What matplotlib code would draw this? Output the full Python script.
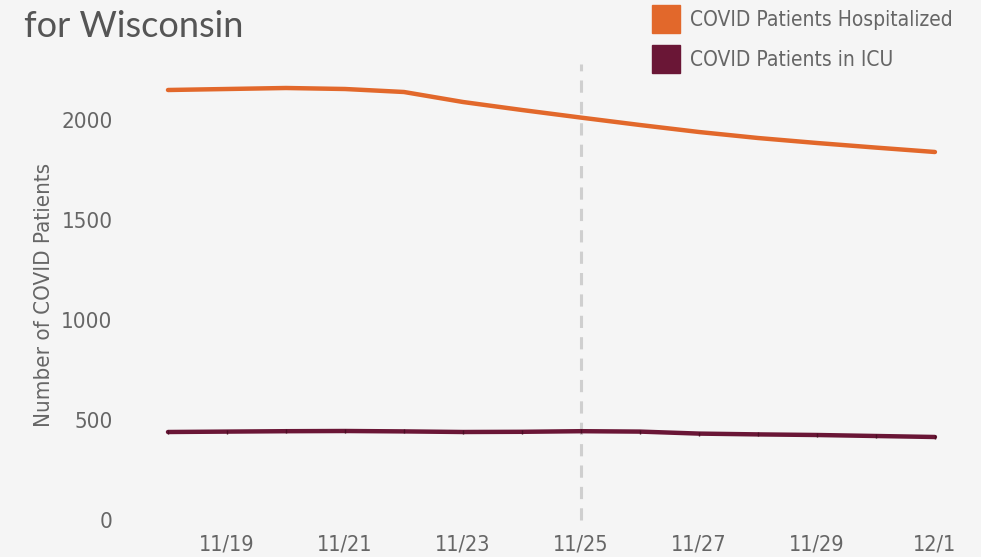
import numpy as np
import matplotlib.pyplot as plt
from matplotlib.patches import Rectangle

dates = ["11/18", "11/19", "11/20", "11/21", "11/22", "11/23", "11/24",
         "11/25", "11/26", "11/27", "11/28", "11/29", "11/30", "12/1"]
hospitalized = [2150, 2155, 2160, 2155, 2140, 2090, 2050,
                2012, 1975, 1940, 1910, 1885, 1862, 1840]
icu = [440, 442, 444, 445, 443, 440, 441,
       444, 442, 432, 428, 425, 420, 415]
yticks = [0, 500, 1000, 1500, 2000]
xtick_labels = ["11/19", "11/21", "11/23", "11/25", "11/27", "11/29", "12/1"]
marker_date = "11/25"

bg = "#f5f5f5"
orange = "#e2682b"
maroon = "#6a1636"
grey = "#666666"
narrow = dict(family="DejaVu Sans", stretch="condensed")

fig = plt.figure(figsize=(9.81, 5.57), dpi=100, facecolor=bg)
ax = fig.add_axes([150/981, 1 - 530/557, 805/981, 470/557])
ax.set_facecolor(bg)

x = np.arange(len(dates))
ax.plot(x, hospitalized, color=orange, lw=3.2, solid_capstyle="round")
ax.plot(x, icu, color=maroon, lw=3.2, solid_capstyle="round",
        marker="|", markersize=3, markeredgecolor="#4a0e24")

mx = dates.index(marker_date)
ax.vlines(mx, 0, 2280, colors="#cfcfcf", linestyles=(0, (4, 3)), lw=2.2, zorder=0)

ax.set_xlim(-0.305, 13.34)
ax.set_ylim(-50, 2300)
ax.set_yticks(yticks)
ax.set_yticklabels([str(v) for v in yticks])
ax.set_xticks([dates.index(d) for d in xtick_labels])
ax.set_xticklabels(xtick_labels)
ax.tick_params(axis="both", length=0, colors=grey)
ax.tick_params(axis="y", pad=27, labelsize=16)
ax.tick_params(axis="x", pad=3, labelsize=15.5)
for lab in ax.get_xticklabels() + ax.get_yticklabels():
    lab.set_fontfamily(narrow["family"])
    lab.set_fontstretch(narrow["stretch"])
for s in ax.spines.values():
    s.set_visible(False)

ax.set_ylabel("Number of COVID Patients", color=grey, fontsize=16,
              labelpad=5, **narrow)

# title (first line is cut off in the original)
fig.text(24/981, 1 - 37/557, "for Wisconsin", fontsize=26, color="#555555",
         family="Lato")

# legend
for i, (lab, c) in enumerate([("COVID Patients Hospitalized", orange),
                              ("COVID Patients in ICU", maroon)]):
    y0 = 5 + 40 * i
    fig.patches.append(Rectangle((652/981, 1 - (y0 + 28)/557), 28/981, 28/557,
                                 transform=fig.transFigure, color=c))
    fig.text(690/981, 1 - (y0 + 15)/557, lab, fontsize=15, color=grey,
             va="center", **narrow)

fig.savefig("out.png", dpi=100, facecolor=bg)
